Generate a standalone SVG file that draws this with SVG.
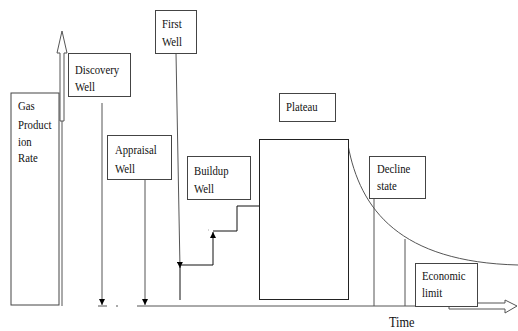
<svg xmlns="http://www.w3.org/2000/svg" width="518" height="331" viewBox="0 0 518 331" font-family="'Liberation Serif', 'Times New Roman', serif">
<defs>
<marker id="tri" viewBox="0 0 6 6" refX="6" refY="3" markerWidth="6" markerHeight="6" orient="auto" markerUnits="userSpaceOnUse">
<path d="M0,0 L6,3 L0,6 Z" fill="#000"/>
</marker>
</defs>
<style>
.box{fill:#fff;stroke:#444;stroke-width:1}
.ln{fill:none;stroke:#555;stroke-width:1}
.blk{fill:none;stroke:#111;stroke-width:1}
text{font-family:'Liberation Serif','Times New Roman',serif;font-size:12.5px;fill:#111}
</style>
<rect width="518" height="331" fill="#fff"/>
<g id="connectors">
<path class="ln" d="M60,121 L60,53 L57,53 L62,31 L67,53 L64,53 L64,121 Z"/>
<line class="ln" x1="62" y1="121" x2="62" y2="306"/>
<line class="ln" x1="28" y1="185" x2="28" y2="268" marker-end="url(#tri)"/>
<line class="ln" x1="102" y1="103" x2="102" y2="305" marker-end="url(#tri)"/>
<line class="ln" x1="98" y1="306" x2="107" y2="306"/>
<line class="ln" x1="116" y1="306" x2="118" y2="306"/>
<line class="ln" x1="137" y1="306" x2="449" y2="306"/>
<line class="ln" x1="145" y1="179" x2="145" y2="305" marker-end="url(#tri)"/>
<line class="ln" x1="176" y1="53" x2="180" y2="268" marker-end="url(#tri)"/>
<line class="blk" x1="180" y1="266" x2="180" y2="300"/>
<path class="blk" d="M180,265 L213,265 L213,232" marker-end="url(#tri)"/>
<path class="blk" d="M213,231 L237,231 L237,206 L259,206"/>
<line class="ln" x1="208" y1="230" x2="208.5" y2="230"/>
<path class="ln" d="M348,145 C360,210 400,262 518,265"/>
<line class="ln" x1="374" y1="197" x2="374" y2="306"/>
<line class="ln" x1="405" y1="239" x2="405" y2="306"/>
<path class="ln" d="M449,306 L449,309 L505,309 L505,313 L517,306 L505,300 L505,303 L477,303"/>
</g>
<g id="gas-production-rate">
<rect class="box" x="11" y="93" width="48" height="212"/>
<text transform="translate(18,110) scale(0.86,1)">Gas</text>
<text transform="translate(18,129) scale(0.86,1)">Product</text>
<text transform="translate(18,146) scale(0.86,1)">ion</text>
<text transform="translate(18,162) scale(0.86,1)">Rate</text>
</g>
<g id="discovery-well">
<rect class="box" x="68.500" y="53.500" width="62" height="43"/>
<text transform="translate(75,74) scale(0.86,1)">Discovery</text>
<text transform="translate(75,91) scale(0.86,1)">Well</text>
</g>
<g id="appraisal-well">
<rect class="box" x="107.500" y="135.500" width="64" height="44"/>
<text transform="translate(115,154) scale(0.86,1)">Appraisal</text>
<text transform="translate(115,173) scale(0.86,1)">Well</text>
</g>
<g id="first-well">
<rect class="box" x="155.500" y="10.500" width="41" height="43"/>
<text transform="translate(162,28) scale(0.86,1)">First</text>
<text transform="translate(162,46) scale(0.86,1)">Well</text>
</g>
<g id="buildup-well">
<rect class="box" x="187.500" y="156.500" width="63" height="43"/>
<text transform="translate(194,175) scale(0.86,1)">Buildup</text>
<text transform="translate(194,193) scale(0.86,1)">Well</text>
</g>
<g id="plateau-label">
<rect class="box" x="279.500" y="93.500" width="56" height="28"/>
<text transform="translate(286,111) scale(0.86,1)">Plateau</text>
</g>
<g id="plateau">
<rect class="box" x="259.500" y="139.500" width="89" height="160" style="stroke:#222"/>
</g>
<g id="decline-state">
<rect class="box" x="369.500" y="156.500" width="56" height="42"/>
<text transform="translate(377,173) scale(0.86,1)">Decline</text>
<text transform="translate(377,190) scale(0.86,1)">state</text>
</g>
<g id="economic-limit">
<rect class="box" x="415.500" y="263.500" width="62" height="43"/>
<text transform="translate(422,280) scale(0.86,1)">Economic</text>
<text transform="translate(422,297) scale(0.86,1)">limit</text>
</g>
<g id="time">
<text transform="translate(389,327) scale(0.85,1)" style="font-size:14.5px">Time</text>
</g>
</svg>
